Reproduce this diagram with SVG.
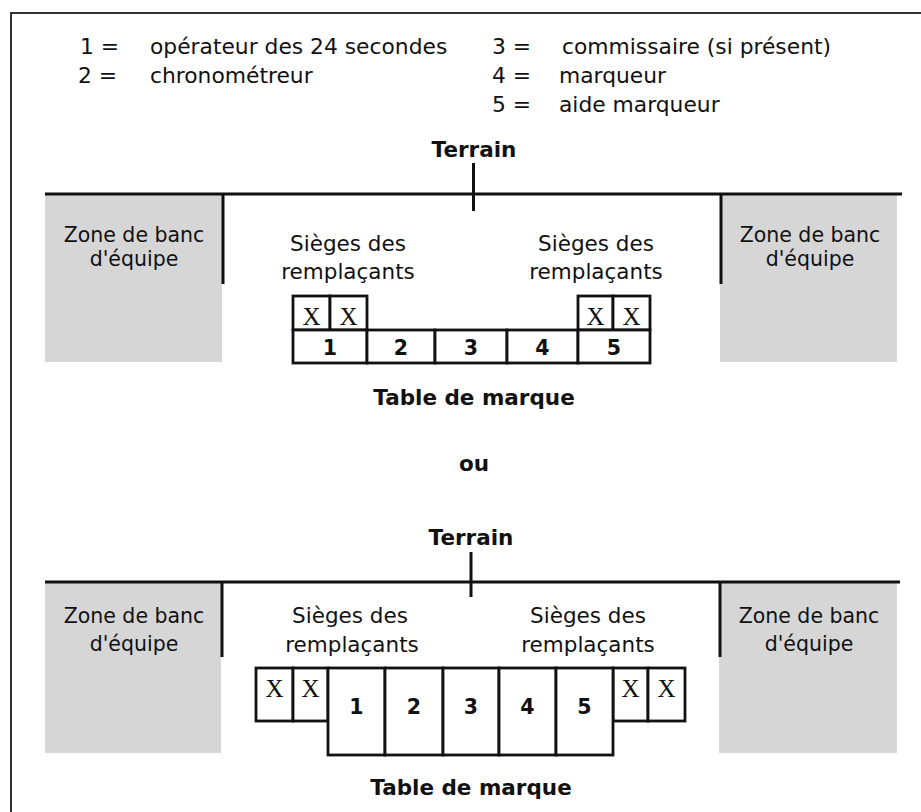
<svg xmlns="http://www.w3.org/2000/svg" width="921" height="812" viewBox="0 0 921 812">
<style>
.t{font-family:"DejaVu Sans",Verdana,sans-serif;font-size:21.8px;fill:#111}
.z{font-family:"DejaVu Sans",Verdana,sans-serif;font-size:20.5px;fill:#111;text-anchor:middle}
.s{font-family:"DejaVu Sans",Verdana,sans-serif;font-size:21.5px;fill:#111;text-anchor:middle}
.b{font-family:"DejaVu Sans",Verdana,sans-serif;font-size:21.5px;font-weight:bold;fill:#111;text-anchor:middle}
.n{font-family:"DejaVu Sans",Verdana,sans-serif;font-size:20.5px;font-weight:bold;fill:#111;text-anchor:middle}
.x{font-family:"Liberation Serif","Times New Roman",serif;font-size:25px;fill:#111;text-anchor:middle}
.g{fill:#d6d6d6}
.ln{stroke:#111;stroke-width:3;fill:none}
.cell{stroke:#111;stroke-width:2.8;fill:#fff}
.fr{stroke:#333;stroke-width:2;fill:none}
</style>
<rect width="921" height="812" fill="#fff"/>
<g id="frame"><path class="fr" d="M11,812 V13 H921"/></g>
<g id="legend">
<text class="t" x="80" y="54">1 =</text><text class="t" x="150" y="54">opérateur des 24 secondes</text>
<text class="t" x="78" y="83">2 =</text><text class="t" x="150" y="83">chronométreur</text>
<text class="t" x="492" y="54">3 =</text><text class="t" x="562" y="54">commissaire (si présent)</text>
<text class="t" x="492" y="83">4 =</text><text class="t" x="559" y="83">marqueur</text>
<text class="t" x="492" y="112">5 =</text><text class="t" x="559" y="112">aide marqueur</text>
</g>
<g id="diagram1">
<g id="bench1-left"><rect class="g" x="45" y="194" width="177" height="168"/><text class="z" x="134" y="242">Zone de banc</text><text class="z" x="134" y="266">d'équipe</text></g>
<g id="bench1-right"><rect class="g" x="720" y="194" width="177" height="168"/><text class="z" x="810" y="242">Zone de banc</text><text class="z" x="810" y="266">d'équipe</text></g>
<g id="connectors1">
<path class="ln" d="M45,194 H902 M473.5,163 V211 M223,194 V284 M721,194 V284"/>
</g>
<text class="b" x="474" y="157">Terrain</text>
<g id="subs1-left"><text class="s" x="348" y="251">Sièges des</text><text class="s" x="348" y="279">remplaçants</text></g>
<g id="subs1-right"><text class="s" x="596" y="251">Sièges des</text><text class="s" x="596" y="279">remplaçants</text></g>
<g id="table1">
<rect class="cell" x="293" y="296" width="37" height="34"/><rect class="cell" x="330" y="296" width="37" height="34"/>
<rect class="cell" x="578" y="296" width="35" height="34"/><rect class="cell" x="613" y="296" width="37" height="34"/>
<rect class="cell" x="293" y="330" width="74" height="33"/><rect class="cell" x="367" y="330" width="68" height="33"/>
<rect class="cell" x="435" y="330" width="72" height="33"/><rect class="cell" x="507" y="330" width="71" height="33"/>
<rect class="cell" x="578" y="330" width="72" height="33"/>
<text class="x" x="311.5" y="325">X</text><text class="x" x="348.5" y="325">X</text>
<text class="x" x="595.5" y="325">X</text><text class="x" x="631.5" y="325">X</text>
<text class="n" x="330" y="355">1</text><text class="n" x="401" y="355">2</text><text class="n" x="471" y="355">3</text><text class="n" x="542.5" y="355">4</text><text class="n" x="614" y="355">5</text>
</g>
<text class="b" x="474" y="405">Table de marque</text>
</g>
<text class="b" x="474" y="471">ou</text>
<g id="diagram2">
<g id="bench2-left"><rect class="g" x="45" y="582" width="176" height="171"/><text class="z" x="134" y="623">Zone de banc</text><text class="z" x="134" y="651">d'équipe</text></g>
<g id="bench2-right"><rect class="g" x="719" y="582" width="178" height="171"/><text class="z" x="809" y="623">Zone de banc</text><text class="z" x="809" y="651">d'équipe</text></g>
<g id="connectors2">
<path class="ln" d="M45,582 H900 M471,552 V597 M222,582 V657 M720,582 V657"/>
</g>
<text class="b" x="471" y="545">Terrain</text>
<g id="subs2-left"><text class="s" x="350" y="623">Sièges des</text><text class="s" x="352" y="652">remplaçants</text></g>
<g id="subs2-right"><text class="s" x="588" y="623">Sièges des</text><text class="s" x="588" y="652">remplaçants</text></g>
<g id="table2">
<rect class="cell" x="256" y="668" width="37" height="53"/><rect class="cell" x="293" y="668" width="35" height="53"/>
<rect class="cell" x="613" y="668" width="35" height="53"/><rect class="cell" x="648" y="668" width="37" height="53"/>
<rect class="cell" x="328" y="668" width="57" height="87"/><rect class="cell" x="385" y="668" width="58" height="87"/>
<rect class="cell" x="443" y="668" width="56" height="87"/><rect class="cell" x="499" y="668" width="57" height="87"/>
<rect class="cell" x="556" y="668" width="57" height="87"/>
<text class="x" x="274.5" y="697">X</text><text class="x" x="310.5" y="697">X</text>
<text class="x" x="630.5" y="697">X</text><text class="x" x="666.5" y="697">X</text>
<text class="n" x="356.5" y="714">1</text><text class="n" x="414" y="714">2</text><text class="n" x="471" y="714">3</text><text class="n" x="527.5" y="714">4</text><text class="n" x="584.5" y="714">5</text>
</g>
<text class="b" x="471" y="795">Table de marque</text>
</g>
</svg>
